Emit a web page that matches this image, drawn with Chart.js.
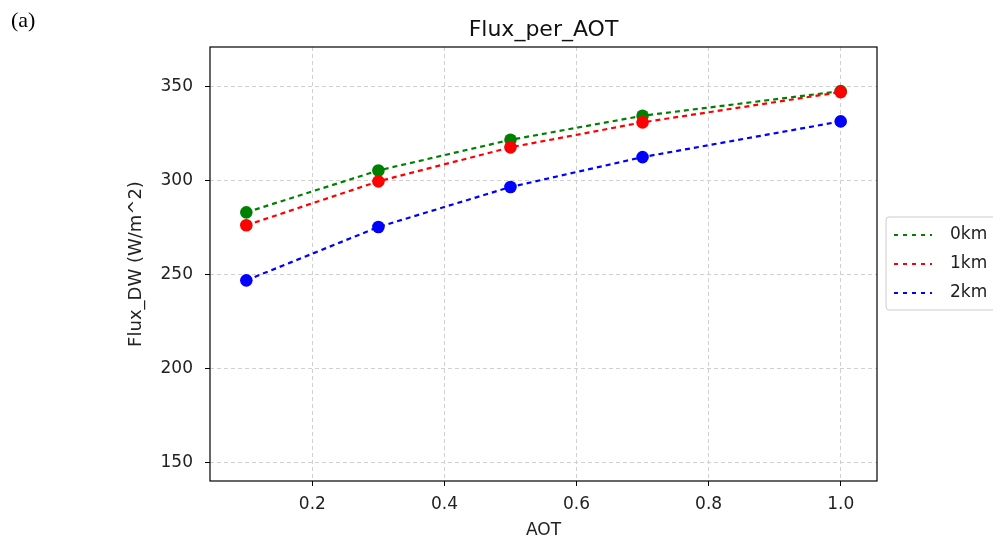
<!DOCTYPE html>
<html>
<head>
<meta charset="utf-8">
<script src="https://cdn.jsdelivr.net/npm/chart.js@4/dist/chart.umd.min.js"></script>
<style>
  html, body { margin: 0; padding: 0; background: #fff; }
  #wrap { position: relative; width: 993px; height: 542px; }
  #lbl { position: absolute; left: 11px; top: 7px; font: 22px "Liberation Serif", serif; color: #000; }
</style>
</head>
<body>
<div id="wrap">
  <canvas id="myChart" width="993" height="542"></canvas>
  <div id="lbl">(a)</div>
</div>
<script>
const aot = [0.1, 0.3, 0.5, 0.7, 1.0];
const flux0km = [283.0, 305.3, 321.6, 334.4, 347.5];
const flux1km = [276.1, 299.5, 317.6, 330.9, 347.0];
const flux2km = [246.8, 275.2, 296.5, 312.4, 331.4];
const xTicks = [0.2, 0.4, 0.6, 0.8, 1.0];
const yTicks = [150, 200, 250, 300, 350];
const seriesNames = ['0km', '1km', '2km'];
const seriesColors = ['#008000', '#ff0000', '#0000ff'];

const font = '"DejaVu Sans", sans-serif';
const toPts = vals => vals.map((v, i) => ({x: aot[i], y: v}));

const frame = {
    id: 'frame',
    afterDraw(chart) {
        const c = chart.ctx, a = chart.chartArea;
        c.save();
        c.strokeStyle = '#000';
        c.lineWidth = 1.2;
        c.strokeRect(a.left, a.top, a.right - a.left, a.bottom - a.top);
        // title
        c.fillStyle = '#111';
        c.font = '22px ' + font;
        c.textAlign = 'center';
        c.textBaseline = 'middle';
        c.fillText('Flux_per_AOT', (a.left + a.right) / 2, 30);
        // legend
        const lx = 886, ly = 217;
        c.fillStyle = '#fff';
        c.strokeStyle = '#ccc';
        c.lineWidth = 1;
        c.beginPath();
        c.roundRect(lx, ly, 120, 93, 3);
        c.fill();
        c.stroke();
        c.font = '17px ' + font;
        c.textAlign = 'left';
        seriesNames.forEach((n, i) => {
            const y = ly + 18 + i * 29;
            c.strokeStyle = seriesColors[i];
            c.lineWidth = 2;
            c.setLineDash([4, 5]);
            c.beginPath();
            c.moveTo(894, y);
            c.lineTo(932, y);
            c.stroke();
            c.setLineDash([]);
            c.fillStyle = '#222';
            c.fillText(n, 950, y);
        });
        c.restore();
    }
};

new Chart(document.getElementById('myChart'), {
    type: 'line',
    data: {
        datasets: [flux0km, flux1km, flux2km].map((vals, i) => ({
            label: seriesNames[i],
            data: toPts(vals),
            order: 2 - i,
            borderColor: seriesColors[i],
            backgroundColor: seriesColors[i],
            borderWidth: 2.2,
            borderDash: [5, 4],
            pointRadius: 6.3,
            pointBorderWidth: 0,
            pointHoverRadius: 6.3,
            tension: 0,
            fill: false
        }))
    },
    options: {
        responsive: false,
        animation: false,
        layout: { padding: { top: 47, right: 116, left: 126, bottom: 0 } },
        plugins: { legend: { display: false }, title: { display: false }, tooltip: { enabled: false } },
        scales: {
            x: {
                type: 'linear',
                min: 0.045,
                max: 1.055,
                afterFit: s => { s.height = 61; },
                afterBuildTicks: s => { s.ticks = xTicks.map(v => ({value: v})); },
                ticks: { color: '#222', font: { family: font, size: 17 }, padding: 8, callback: v => v.toFixed(1) },
                grid: { color: '#d0d0d0', tickLength: 5, tickColor: '#000', tickBorderDash: [] },
                border: { display: false, dash: [4, 3] },
                title: { display: true, text: 'AOT', color: '#222', font: { family: font, size: 17 }, padding: { top: 0, bottom: 1 } }
            },
            y: {
                min: 140,
                max: 371,
                afterFit: s => { s.width = 84; },
                afterBuildTicks: s => { s.ticks = yTicks.map(v => ({value: v})); },
                ticks: { color: '#222', font: { family: font, size: 17 }, padding: 12 },
                grid: { color: '#d0d0d0', tickLength: 5, tickColor: '#000', tickBorderDash: [] },
                border: { display: false, dash: [4, 3] },
                title: { display: true, text: 'Flux_DW (W/m^2)', color: '#222', font: { family: font, size: 18 }, padding: { top: 0, bottom: 0 } }
            }
        }
    },
    plugins: [frame]
});
</script>
</body>
</html>
